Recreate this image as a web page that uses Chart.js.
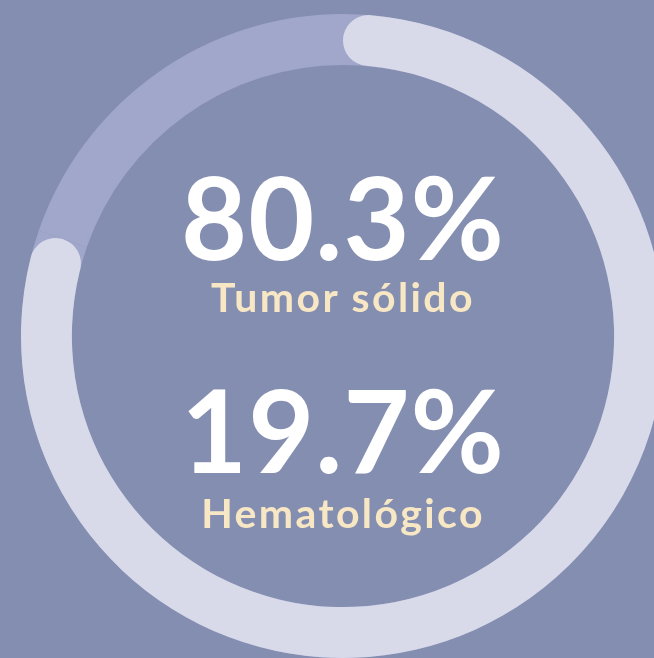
<!DOCTYPE html>
<html>
<head>
<meta charset="utf-8">
<script src="https://cdn.jsdelivr.net/npm/chart.js@4"></script>
<style>
    html, body { margin: 0; padding: 0; }
    body {
        width: 654px; height: 658px; overflow: hidden; position: relative;
        background: #848eb0; font-family: Lato, sans-serif;
    }
    .ring { position: absolute; left: -7px; top: -14px; width: 700px; height: 700px; }
    .txt {
        position: absolute; left: 343px; transform: translateX(-50%);
        white-space: nowrap; line-height: 1;
    }
    .big { color: #ffffff; font-size: 114px; font-weight: 700; letter-spacing: 1px; }
    .lbl { color: #f8e7c4; font-size: 41px; font-weight: 700; letter-spacing: 2.4px; }
</style>
</head>
<body>
<canvas id="track" class="ring" width="700" height="700"></canvas>
<canvas id="share" class="ring" width="700" height="700"></canvas>

<div class="txt big" id="v0" style="top:159px"></div>
<div class="txt lbl" id="l0" style="top:276px"></div>
<div class="txt big" id="v1" style="top:372px"></div>
<div class="txt lbl" id="l1" style="top:492px"></div>

<script>
const categories = ['Tumor sólido', 'Hematológico'];
const percentages = [80.3, 19.7];
const valueLabels = ['80.3%', '19.7%'];

document.addEventListener('DOMContentLoaded', function () {
    const lightColor = '#d8daea';
    const trackColor = '#a0a7ca';

    // shared doughnut geometry (outer r 322px, inner r ~271px)
    const baseOptions = {
        responsive: false,
        animation: false,
        events: [],
        radius: 322,
        cutout: '84.2%',
        layout: { padding: 0 },
        plugins: { legend: { display: false }, tooltip: { enabled: false } }
    };

    // track ring underneath (whole ring in the darker tint)
    new Chart(document.getElementById('track'), {
        type: 'doughnut',
        data: {
            labels: categories,
            datasets: [{
                data: percentages,
                backgroundColor: [trackColor, trackColor],
                borderWidth: 0
            }]
        },
        options: baseOptions
    });

    // main share with round caps on top
    new Chart(document.getElementById('share'), {
        type: 'doughnut',
        data: {
            labels: categories,
            datasets: [{
                data: percentages,
                backgroundColor: [lightColor, 'rgba(0,0,0,0)'],
                borderWidth: 0,
                borderRadius: ctx => ctx.dataIndex === 0 ? 40 : 0
            }]
        },
        options: baseOptions
    });

    document.getElementById('v0').textContent = valueLabels[0];
    document.getElementById('l0').textContent = categories[0];
    document.getElementById('v1').textContent = valueLabels[1];
    document.getElementById('l1').textContent = categories[1];
});
</script>
</body>
</html>
